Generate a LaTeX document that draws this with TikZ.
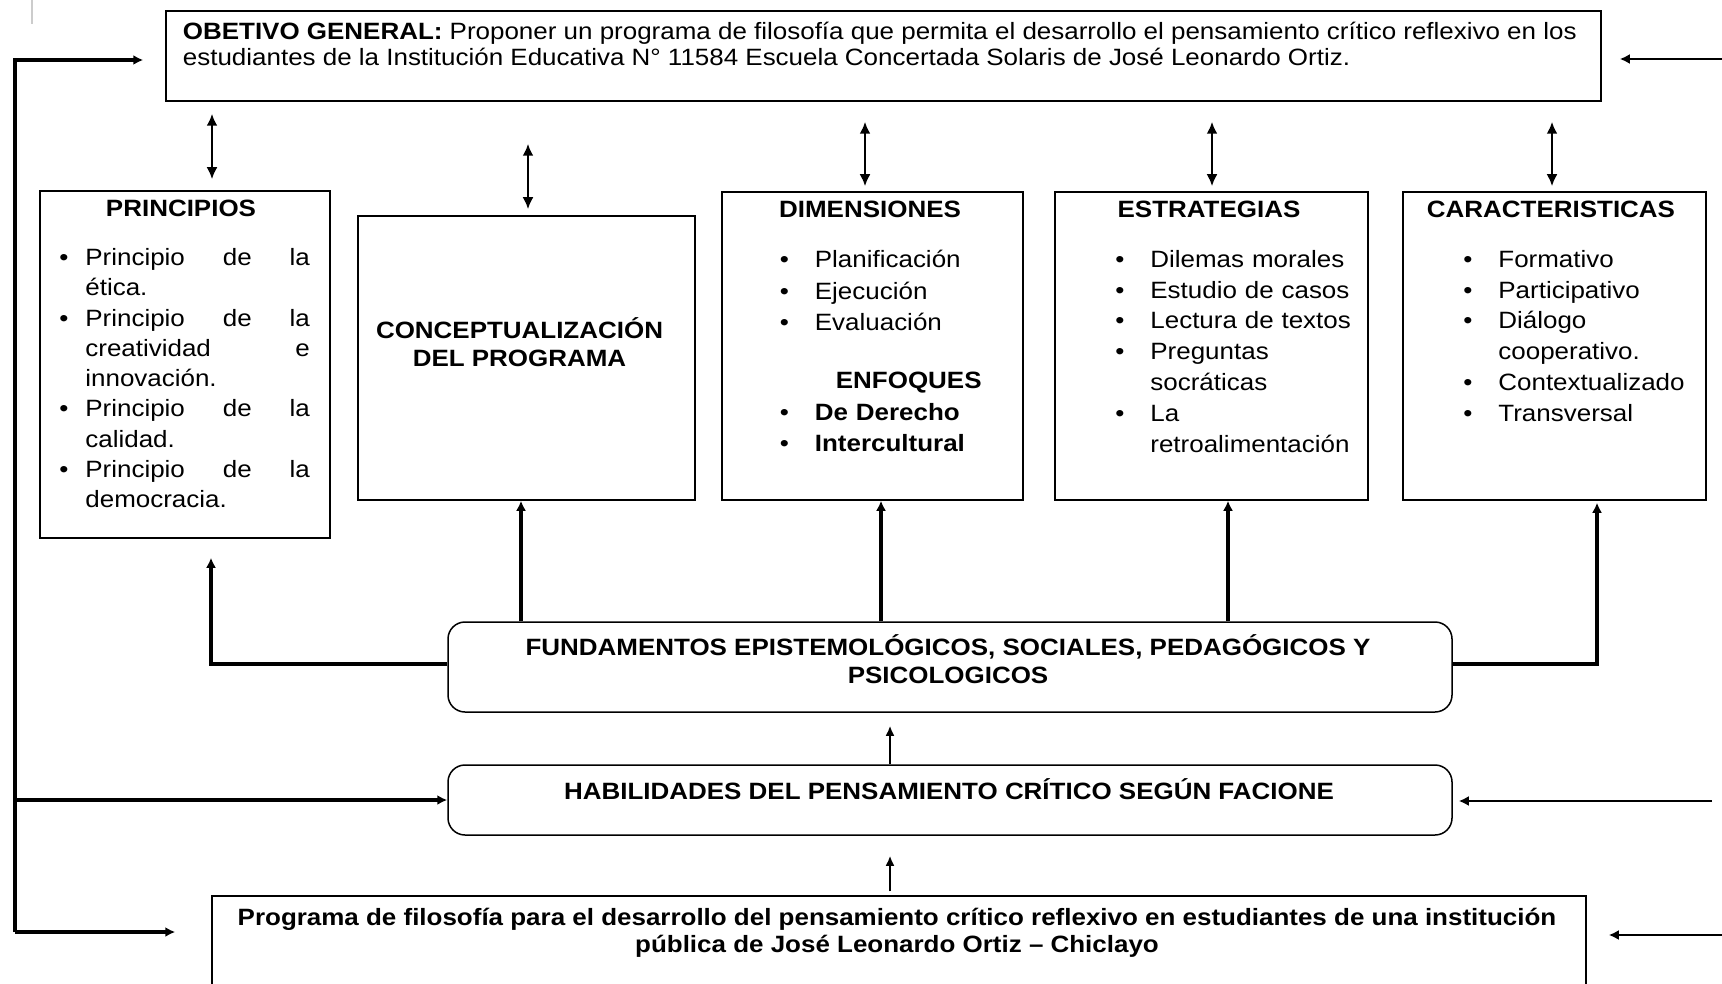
\documentclass[tikz,border=0pt]{standalone}
\usepackage{fontspec}
\setmainfont{Liberation Sans}[FakeStretch=1.1]
\usetikzlibrary{arrows.meta,fit}

\newcommand{\nl}{\hfil\break}
\newcommand{\bitem}[2][17.5pt]{\noindent\hangindent=#1\hangafter=1\makebox[#1][l]{\strut\textbullet}#2\par}

\begin{document}
\begin{tikzpicture}[x=0.5pt,y=0.5pt,yscale=-1,
  panel/.style={draw, line width=0.75pt, inner sep=0pt},
  roundpanel/.style={panel, rounded corners=8.5pt},
  txt/.style={inner sep=0pt, font=\fontsize{11.8}{15.15}\selectfont},
  ttl/.style={inner sep=0pt, font=\fontsize{11.8}{14}\selectfont\bfseries},
  conn/.style={line width=1.6pt, -{Latex[length=5pt,width=5pt]}},
  side/.style={line width=1.4pt, -{Latex[length=5pt,width=5pt]}},
  slim/.style={line width=1pt, -{Latex[length=5pt,width=4.5pt]}},
  dbl/.style={line width=1.4pt, {Latex[length=6pt,width=5.5pt]}-{Latex[length=6pt,width=5.5pt]}}]
\useasboundingbox (0,0) rectangle (1722,984);

%Shape: faint mark
\draw [black!20, line width=0.6pt] (32,0) -- (32,24);

%Shape: Rectangle [goal]
\node [panel, fit={(166,11) (1601,101)}] (goal) {};
%Shape: Rectangle [principios]
\node [panel, fit={(40,191) (330,538)}] (princ) {};
%Shape: Rectangle [conceptualizacion]
\node [panel, fit={(358,216) (695,500)}] (concept) {};
%Shape: Rectangle [dimensiones]
\node [panel, fit={(722,192) (1023,500)}] (dims) {};
%Shape: Rectangle [estrategias]
\node [panel, fit={(1055,192) (1368,500)}] (strat) {};
%Shape: Rectangle [caracteristicas]
\node [panel, fit={(1403,192) (1706,500)}] (caract) {};
%Shape: Rounded Rect [fundamentos]
\node [roundpanel, fit={(448,622) (1452,712)}] (fund) {};
%Shape: Rounded Rect [habilidades]
\node [roundpanel, fit={(448,765) (1452,835)}] (hab) {};
%Shape: Rectangle [programa]
\node [panel, fit={(212,896) (1586,995)}] (prog) {};

% Text Node
\node [txt, anchor=north west, align=left, font=\fontsize{11.8}{13.15}\selectfont] (goaltxt) at (182.5,20.6) {\strut\textbf{OBETIVO GENERAL:} Proponer un programa de filosofía que permita el desarrollo el pensamiento crítico reflexivo en los\\ estudiantes de la Institución Educativa N° 11584 Escuela Concertada Solaris de José Leonardo Ortiz.};

% Text Node
\node [ttl, anchor=base] (princttl) at (181,217) {PRINCIPIOS};
% Text Node
\node [txt, anchor=north west, text width=125.25pt] (princlist) at (59,243.8) {%
\bitem[13pt]{Principio\hfill de\hfill la\nl ética.}%
\bitem[13pt]{Principio\hfill de\hfill la\nl creatividad\hfill e\nl innovación.}%
\bitem[13pt]{Principio\hfill de\hfill la\nl calidad.}%
\bitem[13pt]{Principio\hfill de\hfill la\nl democracia.}};

% Text Node
\node [ttl, anchor=north, align=center] (concepttxt) at (519.5,317.4) {\strut CONCEPTUALIZACIÓN\\ DEL PROGRAMA};

% Text Node
\node [ttl, anchor=base] (dimsttl) at (870,218) {DIMENSIONES};
% Text Node
\node [txt, anchor=north west, text width=115pt, font=\fontsize{11.8}{15.75}\selectfont] (dimslist) at (779.5,245.3) {%
\bitem{Planificación}%
\bitem{Ejecución}%
\bitem{Evaluación}%
\vspace{13.25pt}\noindent\hspace*{28pt}\textbf{ENFOQUES}\par
\bitem{\textbf{De Derecho}}%
\bitem{\textbf{Intercultural}}};

% Text Node
\node [ttl, anchor=base] (stratttl) at (1209,218) {ESTRATEGIAS};
% Text Node
\node [txt, anchor=north west, text width=123.5pt, font=\fontsize{11.8}{15.4}\selectfont] (stratlist) at (1115,245.4) {%
\bitem{Dilemas morales}%
\bitem{Estudio de casos}%
\bitem{Lectura de textos}%
\bitem{Preguntas\nl socráticas}%
\bitem{La\nl retroalimentación}};

% Text Node
\node [ttl, anchor=base] (caractttl) at (1551,218) {CARACTERISTICAS};
% Text Node
\node [txt, anchor=north west, text width=118.5pt, font=\fontsize{11.8}{15.4}\selectfont] (caractlist) at (1463,245.4) {%
\bitem{Formativo}%
\bitem{Participativo}%
\bitem{Diálogo\nl cooperativo.}%
\bitem{Contextualizado}%
\bitem{Transversal}};

% Text Node
\node [ttl, anchor=north, align=center] (fundtxt) at (948,634.4) {\strut FUNDAMENTOS EPISTEMOLÓGICOS, SOCIALES, PEDAGÓGICOS Y\\ PSICOLOGICOS};
% Text Node
\node [ttl, anchor=base] (habtxt) at (949,799) {HABILIDADES DEL PENSAMIENTO CRÍTICO SEGÚN FACIONE};
% Text Node
\node [ttl, anchor=north, align=center, font=\fontsize{11.8}{13.6}\selectfont\bfseries] (progtxt) at (897,906) {\strut Programa de filosofía para el desarrollo del pensamiento crítico reflexivo en estudiantes de una institución\\ pública de José Leonardo Ortiz – Chiclayo};

%Arrows: goal <-> row of boxes
\draw [dbl, shorten <=6pt, shorten >=5.5pt] (goal.south -| 212,0) -- (princ.north -| 212,0);
\draw [dbl, shorten <=21pt, shorten >=3pt] (goal.south -| 528,0) -- (concept.north -| 528,0);
\draw [dbl, shorten <=10pt, shorten >=2.5pt] (goal.south -| 865,0) -- (dims.north -| 865,0);
\draw [dbl, shorten <=10pt, shorten >=2.5pt] (goal.south -| 1212,0) -- (strat.north -| 1212,0);
\draw [dbl, shorten <=10pt, shorten >=2.5pt] (goal.south -| 1552,0) -- (caract.north -| 1552,0);

%Arrows: fundamentos -> row of boxes
\draw [conn, shorten >=9.5pt] (fund.west |- 0,664) -| (princ.south -| 211,0);
\draw [conn] (fund.north -| 521,0) -- (concept.south -| 521,0);
\draw [conn] (fund.north -| 881,0) -- (dims.south -| 881,0);
\draw [conn] (fund.north -| 1228,0) -- (strat.south -| 1228,0);
\draw [conn, shorten >=1pt] (fund.east |- 0,664) -| (caract.south -| 1597,0);

%Arrows: programa -> habilidades -> fundamentos
\draw [slim, shorten >=6.5pt] (hab.north -| 890,0) -- (fund.south -| 890,0);
\draw [slim, shorten <=2pt, shorten >=10pt] (prog.north -| 890,0) -- (hab.south -| 890,0);

%Left loop
\coordinate (looptop) at (15,60);
\coordinate (loopbot) at (15,932);
\draw [conn, shorten >=11pt] (loopbot) -- (looptop) -- (goal.west |- looptop);
\draw [conn] (loopbot |- hab.west) -- (hab.west);
\draw [conn, shorten >=18pt] (loopbot) -- (prog.west |- loopbot);

%Right side arrows
\coordinate (rtop) at (1722,59);
\coordinate (rmid) at (1712,801);
\coordinate (rbot) at (1722,935);
\draw [side, shorten >=9pt] (rtop) -- (goal.east |- rtop);
\draw [side, shorten >=3pt] (rmid) -- (hab.east |- rmid);
\draw [side, shorten >=11pt] (rbot) -- (prog.east |- rbot);

\end{tikzpicture}
\end{document}
